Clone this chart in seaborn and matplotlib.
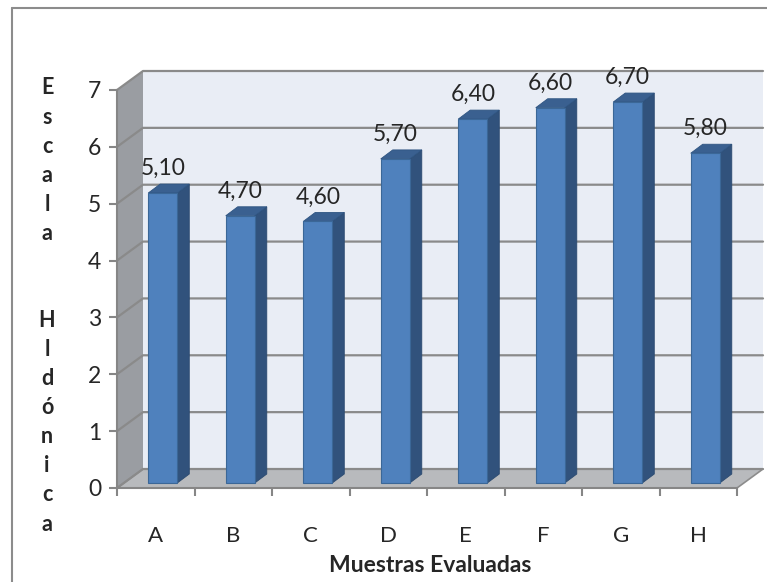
import numpy as np
import pandas as pd
import seaborn as sns
import matplotlib.pyplot as plt
from matplotlib.patches import Polygon
from matplotlib.lines import Line2D
from matplotlib.transforms import IdentityTransform, offset_copy

# datos
muestras = ['A', 'B', 'C', 'D', 'E', 'F', 'G', 'H']
puntajes = [5.10, 4.70, 4.60, 5.70, 6.40, 6.60, 6.70, 5.80]
y_ticks = [0, 1, 2, 3, 4, 5, 6, 7]

sns.set_style('white')
plt.rcParams['font.family'] = ['Lato', 'DejaVu Sans']

W, H = 767, 582
fig = plt.figure(figsize=(W / 100, H / 100), dpi=100)
ax = fig.add_axes([117 / W, 1 - 488 / H, 620 / W, 398 / H])

df = pd.DataFrame({'muestra': muestras, 'valor': puntajes})
sns.barplot(data=df, x='muestra', y='valor', color='#4f81bd', saturation=1,
            width=0.375, edgecolor='#3b6797', linewidth=0.8, zorder=3, ax=ax)
bars = list(ax.patches)

ax.set_xlim(-0.5, len(muestras) - 0.5)
ax.set_ylim(0, 7)
ax.patch.set_alpha(0)
ax.set_xlabel('')
ax.set_ylabel('')

# profundidad "3D" en pixeles
DX, DY = 26, 19
BX, BY = 7, 5
bx, by = 12, 9
x_lo, x_hi = -0.5, len(muestras) - 0.5


def px(x, y, ox=0, oy=0):
    p = ax.transData.transform((x, y))
    return (p[0] + ox, p[1] + oy)


def poly(verts, fc, ec='none', z=0, lw=0):
    ax.add_patch(Polygon(verts, closed=True, facecolor=fc, edgecolor=ec, lw=lw,
                         transform=IdentityTransform(), clip_on=False, zorder=z))


# paredes y piso
poly([px(x_lo, 0, DX, DY), px(x_hi, 0, DX, DY), px(x_hi, 7, DX, DY), px(x_lo, 7, DX, DY)], '#e9edf5')
poly([px(x_lo, 0), px(x_lo, 7), px(x_lo, 7, DX, DY), px(x_lo, 0, DX, DY)], '#9a9da2')
poly([px(x_lo, 0), px(x_hi, 0), px(x_hi, 0, DX, DY), px(x_lo, 0, DX, DY)], '#b8babd',
     ec='#8c8c8c', lw=1.2, z=0.5)

for yv in y_ticks:
    a = px(x_lo, yv)
    b = px(x_lo, yv, DX, DY)
    c = px(x_hi, yv, DX, DY)
    ax.add_line(Line2D([a[0], b[0], c[0]], [a[1], b[1], c[1]], color='#8a8a8a', lw=1.6,
                       transform=IdentityTransform(), clip_on=False, zorder=1))

# barras con cara lateral y superior
shift = offset_copy(ax.transData, fig=fig, x=BX, y=BY, units='dots')
for p in bars:
    x0, w, h = p.get_x(), p.get_width(), p.get_height()
    p.set_transform(shift)
    p.set_clip_on(False)
    a = px(x0 + w, 0, BX, BY)
    b = px(x0 + w, h, BX, BY)
    poly([a, b, (b[0] + bx, b[1] + by), (a[0] + bx, a[1] + by)], '#31527c', ec='#2b4a70', lw=0.6, z=2.9)
    c = px(x0, h, BX, BY)
    poly([c, b, (b[0] + bx, b[1] + by), (c[0] + bx, c[1] + by)], '#3a6090', ec='#2f5582', lw=0.6, z=2.9)

for i, v in enumerate(puntajes):
    ax.annotate(f'{v:.2f}'.replace('.', ','), (i, v), xytext=(BX, 23),
                textcoords='offset pixels', ha='center', va='baseline', fontsize=16.5)

# ejes
for s in ['top', 'right']:
    ax.spines[s].set_visible(False)
for s in ['left', 'bottom']:
    ax.spines[s].set_color('#868686')
    ax.spines[s].set_linewidth(1.5)
    ax.spines[s].set_zorder(4)

ax.set_yticks(y_ticks)
ax.tick_params(axis='y', length=5.8, width=1.5, color='#868686', pad=5.5, labelsize=16.5, left=True)
ax.set_xticks(range(len(muestras)))
ax.set_xticklabels(muestras)
ax.set_xticks(np.arange(len(muestras) + 1) - 0.5, minor=True)
ax.tick_params(axis='x', which='major', length=0, pad=27, labelsize=16)
ax.tick_params(axis='x', which='minor', length=5.8, width=1.5, color='#868686', bottom=True)

fig.text(47 / W, 1 - 306 / H, '\n'.join('Escala') + '\n\n\n' + '\n'.join('Hldónica'),
         ha='center', va='center', fontsize=15.5, fontweight='bold', linespacing=1.475)
fig.text(430 / W, 1 - 566 / H, 'Muestras Evaluadas', ha='center', va='center',
         fontsize=16.5, fontweight='bold')

# marco exterior
fig.add_artist(Line2D([12 / W, 12 / W], [0, 1 - 8 / H], color='#8c8c8c', lw=1.5))
fig.add_artist(Line2D([12 / W, 1], [1 - 8 / H, 1 - 8 / H], color='#8c8c8c', lw=1.5))

fig.savefig('out.png', dpi=100)
